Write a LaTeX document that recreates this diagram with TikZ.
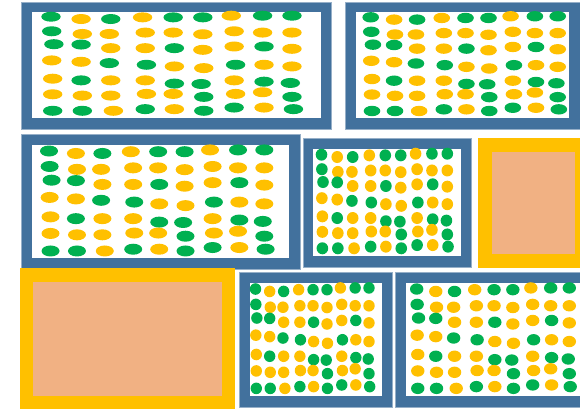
\documentclass[tikz,border=0pt]{standalone}
\definecolor{boxblue}{RGB}{66,113,157}
\definecolor{edgeblue}{RGB}{150,175,200}
\definecolor{frameorange}{HTML}{FFC000}
\definecolor{peach}{RGB}{241,177,131}
\definecolor{dotG}{HTML}{00B050}
\definecolor{dotY}{HTML}{FFC000}
\tikzset{
  bluebox/.style={fill=boxblue, draw=edgeblue, line width=0.5pt},
  innerwhite/.style={fill=white},
  orangebox/.style={fill=frameorange},
  peachfill/.style={fill=peach}
}
\newcommand\dotgrid[6]{%
  \foreach \pu/\pv/\pc in {
    0/0/dotG, 0.125/0.025/dotY, 0.248/0.025/dotG, 0.380/0.007/dotY, 0.507/0.007/dotG, 0.630/0.007/dotG, 0.748/-0.011/dotY, 0.878/-0.011/dotG, 1.0/-0.011/dotG,
    0.003/0.157/dotG, 0.130/0.186/dotY, 0.242/0.186/dotY, 0.391/0.171/dotY, 0.507/0.171/dotY, 0.630/0.189/dotY, 0.760/0.157/dotY, 0.878/0.171/dotY, 1.0/0.171/dotY,
    0.012/0.296/dotG, 0.125/0.300/dotG, 0.248/0.339/dotY, 0.391/0.339/dotY, 0.512/0.339/dotG, 0.630/0.357/dotY, 0.760/0.321/dotY, 0.884/0.321/dotG, 1.0/0.346/dotY,
    0.003/0.471/dotY, 0.125/0.486/dotY, 0.242/0.5/dotG, 0.396/0.518/dotG, 0.512/0.536/dotY, 0.634/0.554/dotY, 0.766/0.518/dotG, 0.884/0.518/dotY, 1.0/0.536/dotY,
    0.007/0.668/dotY, 0.125/0.686/dotG, 0.248/0.686/dotY, 0.391/0.686/dotY, 0.512/0.721/dotG, 0.623/0.725/dotG, 0.760/0.686/dotY, 0.884/0.7/dotG, 0.993/0.714/dotG,
    0.007/0.836/dotY, 0.130/0.850/dotY, 0.248/0.850/dotY, 0.396/0.832/dotY, 0.507/0.832/dotY, 0.634/0.864/dotG, 0.766/0.832/dotY, 0.878/0.814/dotY, 1.0/0.864/dotG,
    0.007/1.014/dotG, 0.130/1.014/dotG, 0.259/1.014/dotY, 0.391/0.996/dotG, 0.512/0.996/dotY, 0.634/1.014/dotG, 0.760/0.979/dotG, 0.884/0.979/dotY, 1.006/0.996/dotG}
  {\fill[\pc] ({#1+\pu*(#2-#1)},{#3+\pv*(#4-#3)}) ellipse [x radius=#5pt, y radius=#6pt];}%
}
\begin{document}
\begin{tikzpicture}[x=1pt,y=-1pt]
\useasboundingbox (0,0) rectangle (580,408);
\clip (0,0) rectangle (580,408);
% box 1
\filldraw[bluebox] (21,2) rectangle (331,129);
\fill[innerwhite] (32,12) rectangle (321,118);
\dotgrid{51}{292}{16.7}{109.5}{9.7}{5}
% box 2
\filldraw[bluebox] (345,2) rectangle (581,129);
\fill[innerwhite] (356,12) rectangle (569,118);
\dotgrid{370.7}{557.7}{17.3}{109.7}{8.3}{5.2}
% box 3
\filldraw[bluebox] (21,134) rectangle (300,269);
\fill[innerwhite] (32,145) rectangle (289,258);
\dotgrid{49}{264.3}{151}{249.6}{9}{5.5}
% box 4
\filldraw[bluebox] (303,138) rectangle (471,267);
\fill[innerwhite] (313,149) rectangle (461,256);
\dotgrid{321.5}{447.3}{154.7}{247}{5.8}{6}
% box 5 (orange)
\fill[orangebox] (478,138) rectangle (589,268);
\fill[peachfill] (492,152) rectangle (575,254);
% box 6 (orange)
\fill[orangebox] (20,268) rectangle (235,410);
\fill[peachfill] (33,282) rectangle (222,396);
% box 7
\filldraw[bluebox] (239,272) rectangle (392,407);
\fill[innerwhite] (250,283) rectangle (382,396);
\dotgrid{255.5}{369}{289}{387}{5.7}{5.8}
% box 8
\filldraw[bluebox] (395,272) rectangle (600,407);
\fill[innerwhite] (406,283) rectangle (590,396);
\dotgrid{416.7}{569.3}{289}{387}{6.7}{5.7}
\end{tikzpicture}
\end{document}
